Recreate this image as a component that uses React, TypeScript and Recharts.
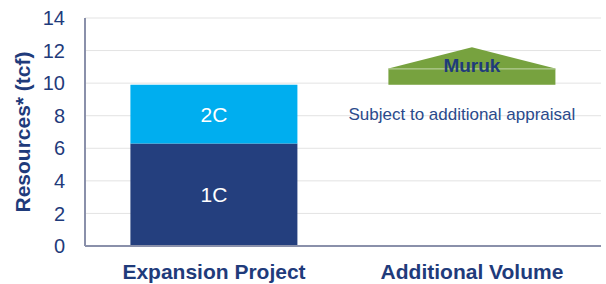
import { BarChart, Bar, XAxis, YAxis, CartesianGrid, LabelList } from 'recharts';

const categories = ['Expansion Project', 'Additional Volume'];
const oneC = [6.3, 0];
const twoC = [3.6, 0];
const murukBase = [0, 9.9];
const murukBody = [0, 1.0];
const murukPeak = [0, 12.2];
const oneCLabels = ['1C', ''];
const twoCLabels = ['2C', ''];
const yTicks = [0, 2, 4, 6, 8, 10, 12, 14];

const NAVY = '#1f3b7b';
const FONT = '"Liberation Sans", Arial, sans-serif';

const data = categories.map((name, i) => ({
  name,
  oneC: oneC[i],
  twoC: twoC[i],
  base: murukBase[i],
  muruk: murukBody[i],
  peak: murukPeak[i],
  oneCLabel: oneCLabels[i],
  twoCLabel: twoCLabels[i],
}));

function MurukShape(props: any) {
  const { x, y, width, height, payload } = props;
  if (!payload || !payload.muruk || !height) return null;
  const pxPerUnit = height / payload.muruk;
  const top = payload.base + payload.muruk;
  const apexY = y - (payload.peak - top) * pxPerUnit;
  const cx = x + width / 2;
  return (
    <g>
      <polygon points={`${x},${y} ${cx},${apexY} ${x + width},${y}`} fill="#77a23f" />
      <rect x={x} y={y} width={width} height={height} fill="#77a23f" />
      <line x1={x} x2={x + width} y1={y + 0.5} y2={y + 0.5} stroke="#b3cd95" strokeWidth={1} />
      <text x={cx} y={y + 4} textAnchor="middle" fill={NAVY} fontSize={19} fontWeight="bold" fontFamily={FONT}>
        Muruk
      </text>
      <text x={cx - 10} y={y + height + 35} textAnchor="middle" fill="#2a4a8c" fontSize={17} fontFamily={FONT}>
        Subject to additional appraisal
      </text>
    </g>
  );
}

export default function App() {
  return (
    <div style={{ position: 'absolute', left: 0, top: 0, background: '#fff' }}>
      <BarChart
        width={606}
        height={284}
        data={data}
        margin={{ top: 18, right: 5, bottom: 0, left: 25 }}
        barCategoryGap="17.6%"
      >
        <CartesianGrid vertical={false} stroke="#e3e3e3" />
        <XAxis
          dataKey="name"
          height={38}
          axisLine={{ stroke: '#8a90aa', strokeWidth: 2 }}
          tickLine={false}
          tickSize={0}
          tickMargin={18}
          tick={{ fill: NAVY, fontSize: 21, fontWeight: 'bold', fontFamily: FONT }}
        />
        <YAxis
          width={60}
          domain={[0, 14]}
          ticks={yTicks}
          interval={0}
          axisLine={{ stroke: '#8a90aa', strokeWidth: 2 }}
          tickLine={false}
          tickSize={0}
          tickMargin={20}
          tick={{ fill: NAVY, fontSize: 20, fontFamily: FONT }}
          label={{
            value: 'Resources* (tcf)',
            angle: -90,
            position: 'insideLeft',
            offset: -2,
            style: { fill: NAVY, fontSize: 21, fontWeight: 'bold', fontFamily: FONT, textAnchor: 'middle' },
          }}
        />
        <Bar dataKey="oneC" stackId="a" fill="#243f7e" isAnimationActive={false}>
          <LabelList dataKey="oneCLabel" position="center" fill="#ffffff" fontSize={21} fontFamily={FONT} />
        </Bar>
        <Bar dataKey="twoC" stackId="a" fill="#00aeef" isAnimationActive={false}>
          <LabelList dataKey="twoCLabel" position="center" fill="#ffffff" fontSize={21} fontFamily={FONT} />
        </Bar>
        <Bar dataKey="base" stackId="a" fill="transparent" isAnimationActive={false} />
        <Bar dataKey="muruk" stackId="a" isAnimationActive={false} shape={MurukShape} />
      </BarChart>
    </div>
  );
}
